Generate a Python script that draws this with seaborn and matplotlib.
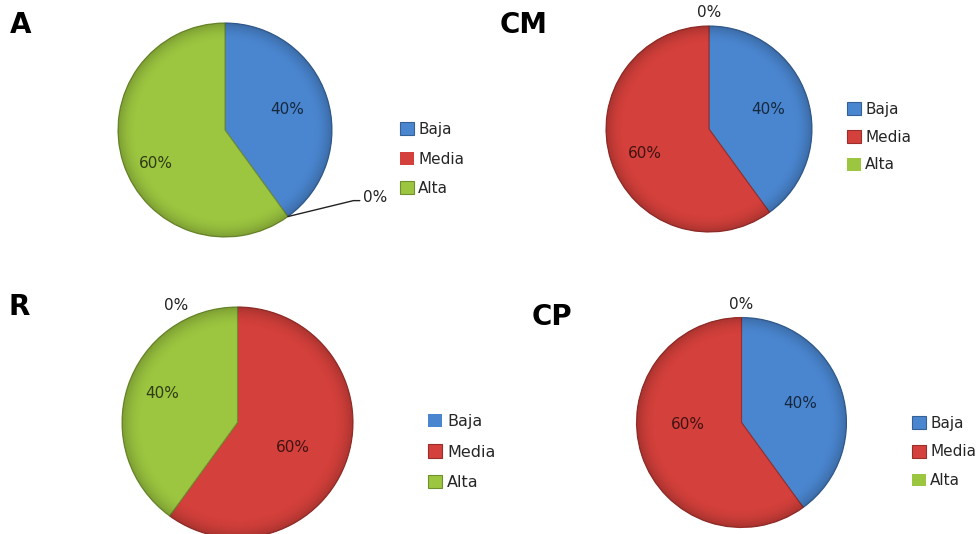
import numpy as np
import pandas as pd
import matplotlib
matplotlib.use("Agg")
import matplotlib.pyplot as plt
import seaborn as sns
from matplotlib.patches import Circle
from matplotlib.colors import to_rgb

# ---------------- data ----------------
categories = ["Baja", "Media", "Alta"]
panels = ["A", "CM", "R", "CP"]
values_A = [40, 0, 60]
values_CM = [40, 60, 0]
values_R = [0, 60, 40]
values_CP = [40, 60, 0]
panel_values = {"A": values_A, "CM": values_CM, "R": values_R, "CP": values_CP}

colors = ["#4A86D0", "#D4403B", "#9CC640"]

# ---------------- style ----------------
sns.set_theme(style="white")
plt.rcParams['font.family'] = ['DejaVu Sans']
palette = sns.color_palette(colors)

W, H = 980, 534
fig = plt.figure(figsize=(W / 100, H / 100), dpi=100)
fig.patch.set_facecolor("white")

# layout in pixel coordinates (center, radius, title pos, legend anchor),
# label placements in pie units
layout = {
    "A":  dict(c=(225, 130), r=107, title=(10, 25), legend=(400, 159), lsp=0.95, lfs=11,
               zero=(1.29, -0.63), leader=True,
               pct={0: (0.58, 0.19), 2: (-0.65, -0.31)}),
    "CM": dict(c=(709, 129), r=103, title=(500, 25), legend=(847, 137), lsp=0.85, lfs=11,
               zero=(0.0, 1.13), leader=False,
               pct={0: (0.57, 0.19), 1: (-0.62, -0.24)}),
    "R":  dict(c=(237.5, 422.5), r=115.5, title=(8, 307), legend=(428, 452), lsp=0.95, lfs=11.5,
               zero=(-0.53, 1.01), leader=False,
               pct={2: (-0.65, 0.25), 1: (0.48, -0.22)}),
    "CP": dict(c=(741.5, 422.5), r=105, title=(532, 317), legend=(912, 452), lsp=0.9, lfs=11,
               zero=(0.0, 1.12), leader=False,
               pct={0: (0.56, 0.18), 1: (-0.51, -0.02)}),
}


def darker(c, f):
    r, g, b = to_rgb(c)
    return (r * f, g * f, b * f)


n = 300
yy, xx = np.mgrid[-1:1:n * 1j, -1:1:n * 1j]
rr = np.hypot(xx, yy)
shade = np.zeros((n, n, 4))
shade[..., 3] = np.clip((rr - 0.82) / 0.18, 0, 1) ** 2 * 0.2

for name in panels:
    L = layout[name]
    vals = panel_values[name]
    cx, cy = L["c"]
    r = L["r"]
    ax = fig.add_axes([(cx - r) / W, (H - cy - r) / H, 2 * r / W, 2 * r / H])
    df = pd.DataFrame({"cat": categories, "val": vals})

    def fmt(p):
        return "" if p < 0.5 else f"{p:.0f}%"

    wedges, texts, autotexts = ax.pie(
        df["val"], colors=palette, startangle=90, counterclock=False,
        autopct=fmt, pctdistance=0.62,
        wedgeprops=dict(linewidth=0.8),
        textprops=dict(fontsize=11),
    )
    for w, c, v in zip(wedges, colors, vals):
        w.set_edgecolor(darker(c, 0.72))
        if v == 0:
            w.set_linewidth(0)
    for i, (t, c) in enumerate(zip(autotexts, colors)):
        t.set_color(darker(c, 0.3))
        t.set_zorder(5)
        if i in L["pct"]:
            t.set_position(L["pct"][i])

    im = ax.imshow(shade, extent=(-1, 1, -1, 1), zorder=3, interpolation="bilinear")
    im.set_clip_path(Circle((0, 0), 1, transform=ax.transData))

    ax.set_xlim(-1, 1)
    ax.set_ylim(-1, 1)
    ax.set_aspect("equal")
    ax.axis("off")

    # zero-value label
    zi = vals.index(0)
    ang = 90 - 360 * sum(vals[:zi]) / sum(vals)
    zx, zy = L["zero"]
    if L["leader"]:
        ex, ey = np.cos(np.radians(ang)), np.sin(np.radians(ang))
        ax.plot([ex, 1.20, 1.26], [ey, zy - 0.03, zy - 0.03], color="#222222", lw=1.0,
                clip_on=False, zorder=6)
        ax.text(zx, zy, "0%", ha="left", va="center", fontsize=11, color="#222222")
    else:
        ax.text(zx, zy, "0%", ha="center", va="center", fontsize=11, color="#222222")

    # title
    tx, ty = L["title"]
    fig.text(tx / W, 1 - ty / H, name, ha="left", va="center", fontsize=20,
             fontweight="bold", color="black")

    # legend
    lx, ly = L["legend"]
    fig.legend(wedges, categories, loc="center left",
               bbox_to_anchor=(lx / W, 1 - ly / H), bbox_transform=fig.transFigure,
               frameon=False, fontsize=L["lfs"], handlelength=0.9, handleheight=0.9,
               handletextpad=0.3, labelspacing=L["lsp"], borderpad=0, borderaxespad=0)

fig.savefig("out.png", dpi=100, facecolor="white")
